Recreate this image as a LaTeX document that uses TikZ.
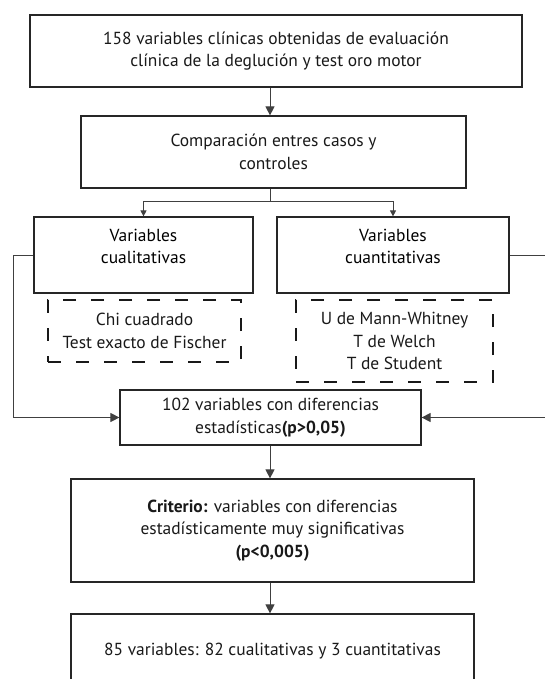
\documentclass[tikz,border=0pt]{standalone}
\usepackage{fontspec}
\setmainfont{PT Sans}
\usetikzlibrary{arrows.meta}
\begin{document}
\begin{tikzpicture}[x=1bp, y=-1bp, font=\fontsize{17.5}{22.5}\selectfont]
  \tikzstyle{box} = [rectangle, draw=black!85, line width=1.2bp, align=center,
                                    inner sep=2bp, text=black!90]
  \tikzstyle{tests} = [rectangle, draw=black!90, line width=1.4bp, align=center,
                                    dash pattern=on 13bp off 15bp, inner sep=2bp, text=black!90]
  \tikzstyle{link} = [draw=black!75, line width=1bp, -{Triangle[width=9bp,length=9bp]}]
  \tikzstyle{split} = [draw=black!75, line width=0.9bp, -{Triangle[width=6bp,length=6bp]}]
\clip (0,0) rectangle (545,679);
\node[box, minimum width=492bp, minimum height=72bp](vars) at (276,51){158 variables clínicas obtenidas de evaluación\\clínica de la deglución y test oro motor};
\node[box, minimum width=385bp, minimum height=72bp](cmp) at (273.5,152){Comparación entres casos y\\controles};
\node[box, minimum width=219bp, minimum height=76bp,
      label={[name=qualtxt, align=center, yshift=8.5bp]center:Variables\\cualitativas}](qual) at (143.5,255){};
\node[box, minimum width=232bp, minimum height=76bp,
      label={[name=quantxt, align=center, yshift=8.5bp]center:Variables\\cuantitativas}](quan) at (393,255){};
\node[tests, minimum width=193bp, minimum height=62bp](qualtest) at (144.5,331){Chi cuadrado\\Test exacto de Fischer};
\node[tests, minimum width=197bp, minimum height=82bp](quantest) at (394.5,341){U de Mann-Whitney\\T de Welch\\T de Student};
\node[box, minimum width=301bp, minimum height=55bp](diff) at (270.5,417.5){102 variables con diferencias\\estadísticas\textbf{(p>0,05)}};
\node[box, minimum width=403bp, minimum height=103bp](crit) at (272.5,530.5){\textbf{Criterio:} variables con diferencias\\estadísticamente muy significativas\\\textbf{(p<0,005)}};
\node[box, minimum width=403bp, minimum height=74bp](result) at (272.5,651){85 variables: 82 cualitativas y 3 cuantitativas};
\coordinate (axis) at (270,0);
\coordinate (fork) at (270,201);
\coordinate (lbend) at (13,255);
\coordinate (rbend) at (552,255);
\draw[link] (vars.south -| axis) -- (cmp.north -| axis);
\draw[draw=black!75, line width=0.9bp] (cmp.south -| axis) -- (fork);
\draw[split] (fork) -| (qual.north);
\draw[split] (fork) -| (quan.north);
\draw[link] (qual.west) -- (lbend) |- (diff.west);
\draw[link] (quan.east) -- (rbend) |- (diff.east);
\draw[link] (diff.south -| axis) -- (crit.north -| axis);
\draw[link] (crit.south -| axis) -- (result.north -| axis);
\end{tikzpicture}
\end{document}
